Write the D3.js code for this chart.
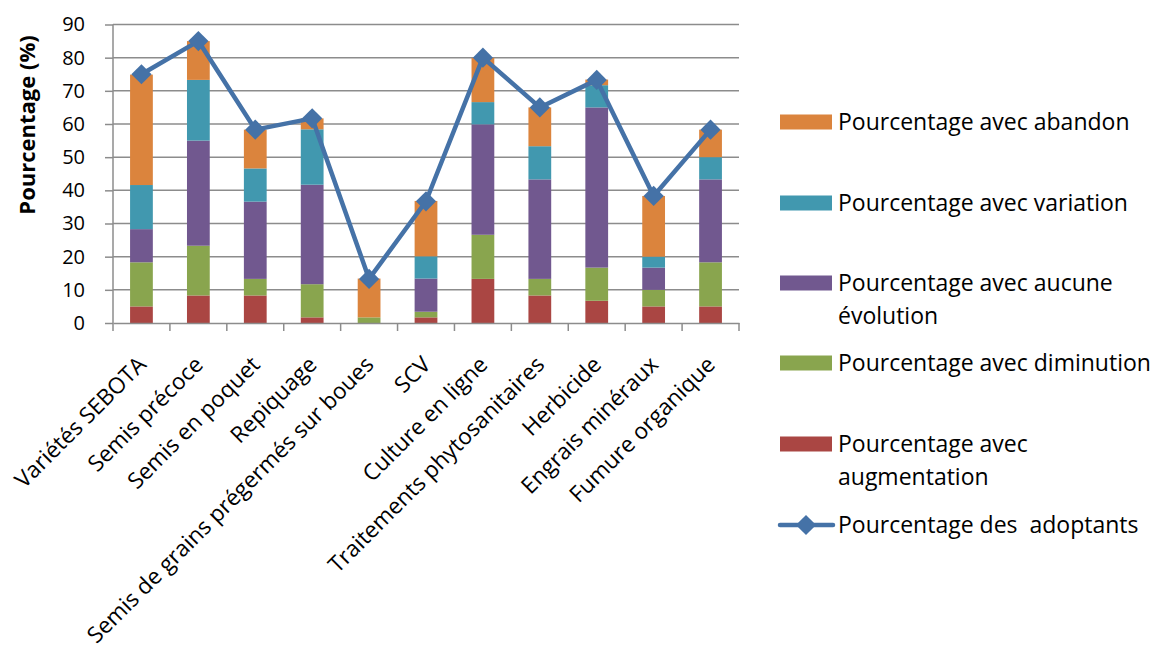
<!DOCTYPE html>
<html>
<head>
<meta charset="utf-8">
<script src="https://cdn.jsdelivr.net/npm/d3@7"></script>
<style>
  body { margin: 0; background: #fff; }
  text { font-family: "Open Sans", Lato, sans-serif; fill: #000; font-variant-ligatures: none; }
</style>
</head>
<body>
<div id="chart"></div>
<script>
// categories and series (percentages)
var categories = ["Variétés SEBOTA", "Semis précoce", "Semis en poquet", "Repiquage",
    "Semis de grains prégermés sur boues", "SCV", "Culture en ligne",
    "Traitements phytosanitaires", "Herbicide", "Engrais minéraux", "Fumure organique"];
var augmentation = [5, 8.3, 8.3, 1.7, 0, 1.7, 13.3, 8.3, 6.7, 5, 5];
var diminution   = [13.3, 15, 5, 10, 1.7, 1.7, 13.3, 5, 10, 5, 13.3];
var aucune       = [10, 31.7, 23.3, 30, 0, 10, 33.3, 30, 48.3, 6.7, 25];
var variation    = [13.3, 18.3, 10, 16.7, 0, 6.7, 6.7, 10, 6.7, 3.3, 6.7];
var abandon      = [33.3, 11.7, 11.7, 3.3, 11.7, 16.7, 13.3, 11.7, 1.7, 18.3, 8.3];
var adoptants    = [75, 85, 58.3, 61.7, 13.3, 36.7, 80, 65, 73.3, 38.3, 58.3];
var yTicks = [0, 10, 20, 30, 40, 50, 60, 70, 80, 90];

var seriesColors = ["#AA4643", "#89A54E", "#71588F", "#4198AF", "#DB843D"];
var lineName = "Pourcentage des  adoptants";
var lineColor = "#4572A7";

var W = 1158, H = 646;
var margin = {top: 24.5, left: 113};
var width = 739 - margin.left, height = 323 - margin.top;

var svg = d3.select("#chart").append("svg")
    .attr("width", W).attr("height", H);
var g = svg.append("g")
    .attr("transform", "translate(" + margin.left + "," + margin.top + ")");

var x = d3.scaleBand().domain(categories).range([0, width]).padding(0);
var y = d3.scaleLinear().domain([0, 90]).range([height, 0]);
var barW = x.bandwidth() * 0.4;

// gridlines
g.selectAll(".grid").data(yTicks.slice(1)).enter().append("line")
    .attr("x1", 0).attr("x2", width)
    .attr("y1", function(d) { return y(d); }).attr("y2", function(d) { return y(d); })
    .attr("stroke", "#8c8c8c").attr("stroke-width", 1.5);

// stacked bars
var rows = categories.map(function(c, i) {
    return {cat: c, s0: augmentation[i], s1: diminution[i], s2: aucune[i], s3: variation[i], s4: abandon[i]};
});
var layers = d3.stack().keys(["s0", "s1", "s2", "s3", "s4"])(rows);

g.selectAll(".layer").data(layers).enter().append("g")
    .attr("fill", function(d, i) { return seriesColors[i]; })
    .selectAll("rect").data(function(d) { return d; }).enter().append("rect")
    .attr("x", function(d) { return x(d.data.cat) + (x.bandwidth() - barW) / 2; })
    .attr("width", barW)
    .attr("y", function(d) { return y(d[1]); })
    .attr("height", function(d) { return y(d[0]) - y(d[1]); });

// axes
var yAxis = g.append("g").call(d3.axisLeft(y).tickValues(yTicks).tickSize(8).tickPadding(20));
yAxis.selectAll("text").style("font-size", "20px").style("font-family", "\"Open Sans\", sans-serif");
yAxis.selectAll("line, path").attr("stroke", "#8c8c8c").attr("stroke-width", 1.5);
yAxis.select(".domain").attr("d", "M0," + height + "V0");

var xAxis = g.append("g").attr("transform", "translate(0," + height + ")")
    .call(d3.axisBottom(x).tickSize(0).tickFormat(""));
xAxis.select(".domain").attr("stroke", "#8c8c8c").attr("stroke-width", 1.5);
var bounds = categories.map(function(c) { return x(c); }).concat([width]);
xAxis.selectAll(".bt").data(bounds).enter().append("line")
    .attr("x1", function(d) { return d; }).attr("x2", function(d) { return d; })
    .attr("y1", 0).attr("y2", 8)
    .attr("stroke", "#8c8c8c").attr("stroke-width", 1.5);

// rotated category labels
g.selectAll(".xl").data(categories).enter().append("text")
    .attr("transform", function(d) {
        return "translate(" + (x(d) + x.bandwidth() / 2 + 6) + "," + (height + 43) + ") rotate(-45)";
    })
    .attr("text-anchor", "end")
    .style("font-size", "22.5px")
    .text(function(d) { return d; });

// y axis title
svg.append("text")
    .attr("transform", "translate(35,125) rotate(-90)")
    .attr("text-anchor", "middle")
    .style("font-size", "22px").style("font-weight", "bold")
    .text("Pourcentage (%)");

// adoptants line
var pts = categories.map(function(c, i) { return [x(c) + x.bandwidth() / 2, y(adoptants[i])]; });
g.append("path").datum(pts)
    .attr("d", d3.line())
    .attr("fill", "none").attr("stroke", lineColor).attr("stroke-width", 4.5)
    .attr("stroke-linejoin", "round");
var diamond = d3.symbol().type(d3.symbolDiamond2).size(260);
g.selectAll(".mk").data(pts).enter().append("path")
    .attr("d", diamond)
    .attr("transform", function(d) { return "translate(" + d[0] + "," + d[1] + ")"; })
    .attr("fill", lineColor);

// legend
var legend = [
    {name: ["Pourcentage avec abandon"], color: seriesColors[4], y: 122},
    {name: ["Pourcentage avec variation"], color: seriesColors[3], y: 203},
    {name: ["Pourcentage avec aucune", "évolution"], color: seriesColors[2], y: 283},
    {name: ["Pourcentage avec diminution"], color: seriesColors[1], y: 363},
    {name: ["Pourcentage avec", "augmentation"], color: seriesColors[0], y: 444}
];
var lg = svg.append("g");
legend.forEach(function(d) {
    lg.append("rect").attr("x", 780).attr("y", d.y - 7.5).attr("width", 52).attr("height", 15)
        .attr("fill", d.color);
    var t = lg.append("text").attr("x", 838).attr("y", d.y)
        .style("font-size", "23px");
    d.name.forEach(function(s, j) {
        t.append("tspan").attr("x", 838).attr("dy", j === 0 ? "0.35em" : 33).text(s);
    });
});
lg.append("line").attr("x1", 780).attr("x2", 833).attr("y1", 525).attr("y2", 525)
    .attr("stroke", lineColor).attr("stroke-width", 4.5).attr("stroke-linecap", "round");
lg.append("path").attr("d", diamond).attr("transform", "translate(806,525)").attr("fill", lineColor);
lg.append("text").attr("x", 838).attr("y", 525).attr("dy", "0.35em")
    .style("font-size", "23px").style("white-space", "pre").text(lineName);
</script>
</body>
</html>
